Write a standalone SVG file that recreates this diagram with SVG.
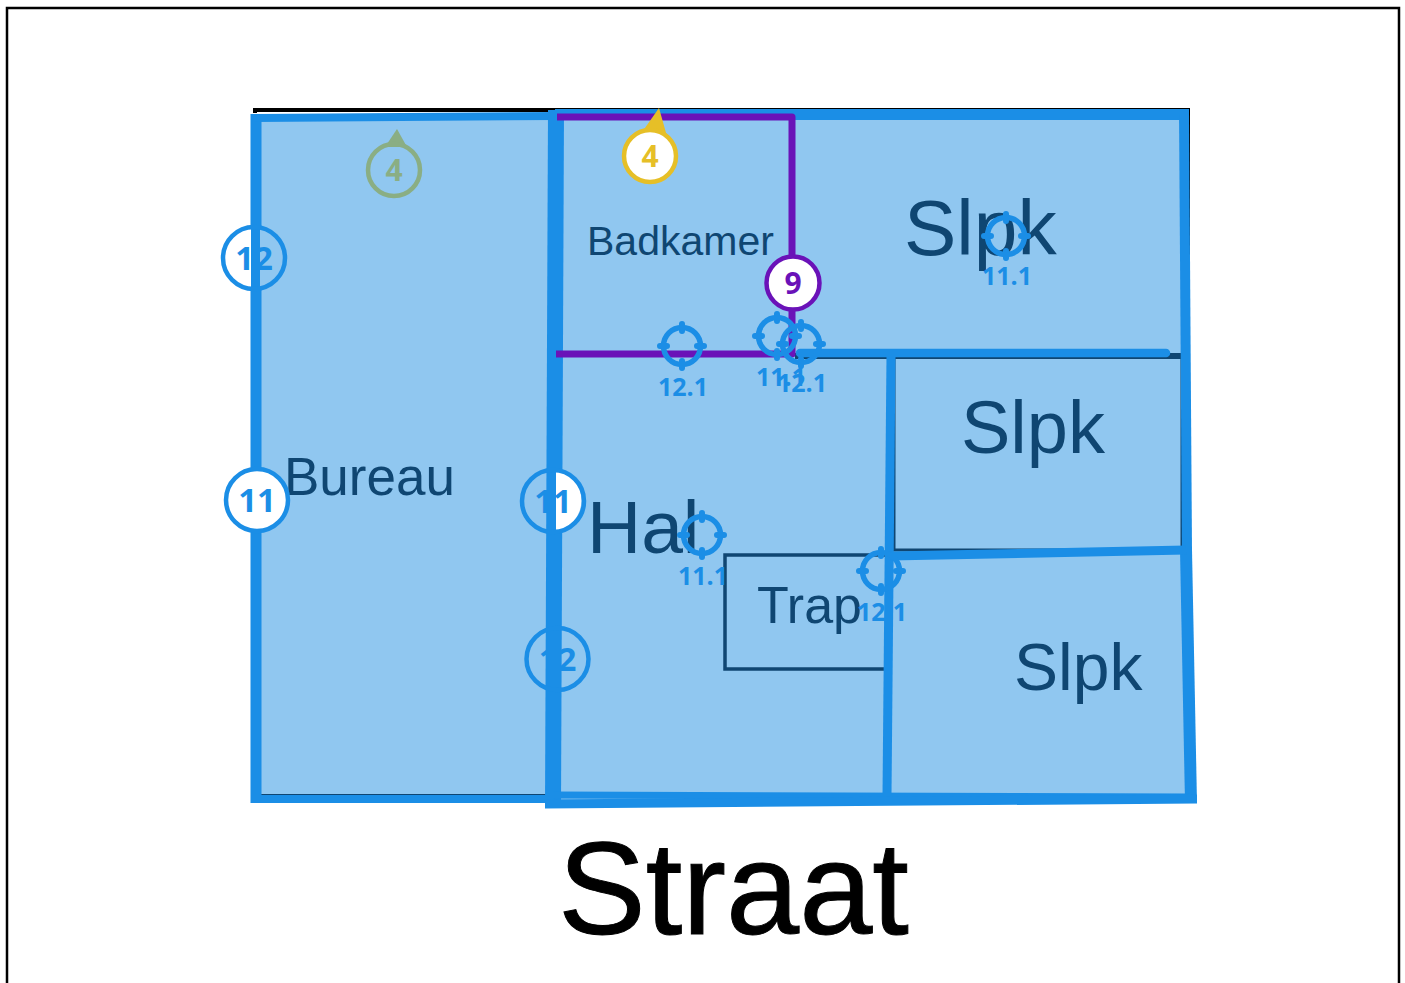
<svg xmlns="http://www.w3.org/2000/svg" width="1405" height="983" viewBox="0 0 1405 983">
<style>
.room{fill:#90c7f0}
.wall{fill:none;stroke:#1b8ee6;stroke-linejoin:miter}
.dark{fill:none;stroke:#0f4672}
.lbl{font-family:"Liberation Sans",Arial,sans-serif;fill:#0f4672}
.num{font-family:"Open Sans","Noto Sans",sans-serif;font-weight:700;text-anchor:middle}
.ring{fill:none;stroke:#1b8ee6;stroke-width:5.5}
.tick{fill:none;stroke:#1b8ee6;stroke-width:6;stroke-linecap:round}
.tl{font-family:"Open Sans","Noto Sans",sans-serif;font-weight:700;font-size:25px;fill:#1b8ee6;text-anchor:middle}
</style>
<defs>
<g id="target">
<circle r="18.500" class="ring"/>
<path class="tick" d="M-22 0H-15M15 0H22M0-22V-15M0 15V22"/>
</g>
</defs>
<rect width="1405" height="983" fill="#fff"/>
<path d="M7 983V8H1399V983" fill="none" stroke="#000" stroke-width="2.5"/>

<g id="walls-base">
<path d="M255 113V110H1188V350" fill="none" stroke="#000" stroke-width="4"/>
<polygon class="room" points="256,118 1184,114 1192,798 552,802 257,798"/>
<path class="dark" stroke-width="6" d="M795 356H1182"/>
<path class="dark" stroke-width="3" d="M894 358V550H1182V358"/>
<rect class="dark" x="725" y="555" width="162" height="114" stroke-width="3.5"/>
<path d="M260 795H550" stroke="#0f4672" stroke-width="2"/>
</g>

<g id="room-labels">
<text class="lbl" x="904" y="255" font-size="78.500">Slpk</text>
<text class="lbl" x="961" y="453" font-size="74">Slpk</text>
<text class="lbl" x="1014" y="690" font-size="66">Slpk</text>
<text class="lbl" x="284" y="495" font-size="53">Bureau</text>
<text class="lbl" x="587" y="255" font-size="41">Badkamer</text>
<text class="lbl" x="587" y="553" font-size="75">Hal</text>
<text class="lbl" x="757" y="623" font-size="52">Trap</text>
</g>
<text id="street" x="558" y="934" font-family="'Liberation Sans',Arial,sans-serif" font-size="131.500" fill="#000" stroke="#000" stroke-width="1">Straat</text>

<g id="connectors">
<path class="wall" stroke-width="11" d="M256 114V803"/>
<path class="wall" stroke-width="8" d="M252 118L556 116"/>
<path class="wall" stroke-width="11" d="M555 114.500H1189"/>
<path class="wall" stroke-width="16" d="M556 110L553 808"/>
<path class="wall" stroke-width="8" d="M254 799H552"/>
<path class="wall" stroke-width="10" d="M1184 110L1187 550"/>
<path class="wall" stroke-width="12" d="M1186 550L1191 803"/>
<path class="wall" stroke-width="7" d="M553 795L1190 797"/>
<path class="wall" stroke-width="9" d="M545 804L1197 799"/>
<path class="wall" stroke-width="9" d="M891 355L887 795"/>
<path class="wall" stroke-width="9" d="M890 556L1186 550"/>
<path d="M800 353H1166" stroke="#1b8ee6" stroke-width="8.500" stroke-linecap="round"/>
<path d="M557 117H792V354H556" fill="none" stroke="#6a12b8" stroke-width="7" stroke-linejoin="round"/>
</g>

<g id="target-1"><use href="#target" x="1006" y="236"/><text class="tl" x="1007" y="285">11.1</text></g>
<g id="target-2"><use href="#target" x="682" y="346"/><text class="tl" x="683" y="396">12.1</text></g>
<g id="target-3"><use href="#target" x="777" y="336"/><text class="tl" x="781" y="386">11.1</text></g>
<g id="target-4"><use href="#target" x="801" y="344"/><text class="tl" x="802" y="392">12.1</text></g>
<g id="target-5"><use href="#target" x="702" y="535"/><text class="tl" x="703" y="585">11.1</text></g>
<g id="target-6"><use href="#target" x="881" y="571"/><text class="tl" x="882" y="621">12.1</text></g>

<g id="marker-12a">
<path d="M251 228A31 31 0 0 0 251 288Z" fill="#fff"/>
<path d="M260 228A31 31 0 0 1 260 288Z" fill="#90c7f0"/>
<circle cx="254" cy="258" r="31" fill="none" stroke="#1b8ee6" stroke-width="4.500"/>
<text class="num" x="254" y="270" font-size="33" fill="#1b8ee6">12</text>
</g>
<g id="marker-11a">
<circle cx="257" cy="500" r="31" fill="#fff" stroke="#1b8ee6" stroke-width="4.500"/>
<text class="num" x="257" y="512" font-size="33" fill="#1b8ee6">11</text>
</g>
<g id="marker-11b">
<path d="M556 470A31 31 0 0 1 556 531Z" fill="#fff"/>
<circle cx="553" cy="501" r="31" fill="none" stroke="#1b8ee6" stroke-width="4.500"/>
<text class="num" x="553" y="513" font-size="33" fill="#1b8ee6">11</text>
</g>
<g id="marker-12b">
<circle cx="557.500" cy="659" r="31" fill="none" stroke="#1b8ee6" stroke-width="4.500"/>
<text class="num" x="557.500" y="671" font-size="33" fill="#1b8ee6">12</text>
</g>
<g id="marker-4-old">
<polygon points="397,129 385,147 407,147" fill="#8aae84"/>
<circle cx="394" cy="170" r="26" fill="none" stroke="#8aae84" stroke-width="4.500"/>
<text class="num" x="394" y="181" font-size="30" fill="#8aae84">4</text>
</g>
<g id="marker-4">
<polygon points="659,108 640,135 668,140" fill="#e6bf27"/>
<circle cx="650" cy="156" r="26" fill="#fff" stroke="#e6bf27" stroke-width="4.500"/>
<text class="num" x="650" y="167" font-size="30" fill="#e6bf27">4</text>
</g>
<g id="marker-9">
<circle cx="793" cy="283" r="26.500" fill="#fff" stroke="#6a12b8" stroke-width="4.500"/>
<text class="num" x="793" y="294" font-size="30" fill="#6a12b8">9</text>
</g>
</svg>
